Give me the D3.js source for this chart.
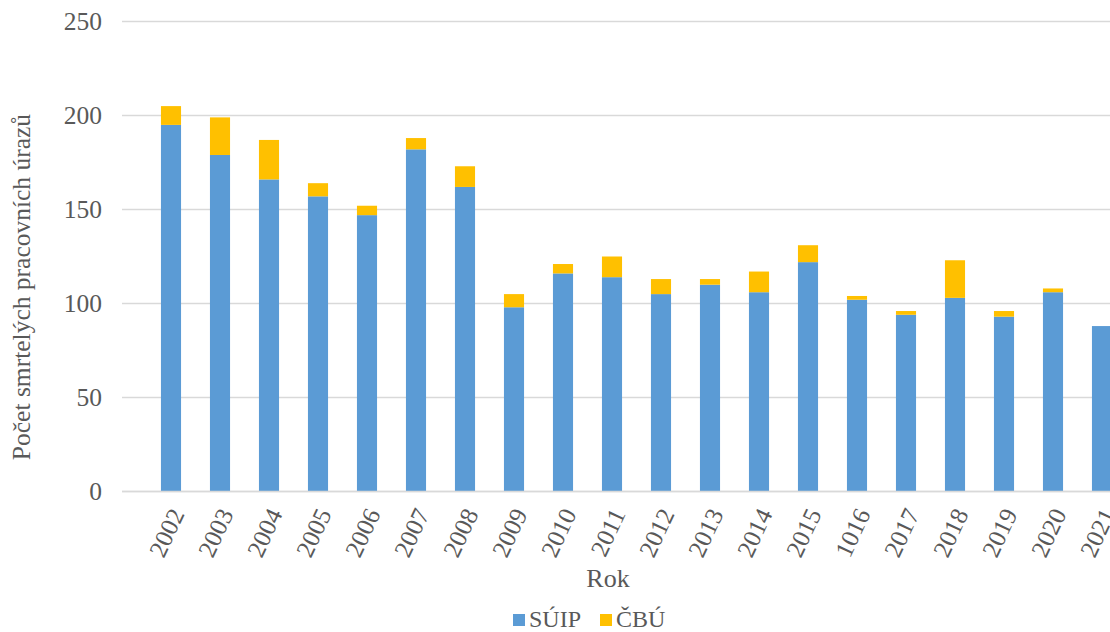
<!DOCTYPE html>
<html><head><meta charset="utf-8">
<script src="https://cdn.jsdelivr.net/npm/d3@7"></script>
<style>body{margin:0;background:#fff}svg{display:block}</style>
</head><body>
<script>
const years = ["2002","2003","2004","2005","2006","2007","2008","2009","2010","2011","2012","2013","2014","2015","1016","2017","2018","2019","2020","2021"];
const suip = [195,179,166,157,147,182,162,98,116,114,105,110,106,122,102,94,103,93,106,88];
const cbu  = [10,20,21,7,5,6,11,7,5,11,8,3,11,9,2,2,20,3,2,0];
const yTicks = [0,50,100,150,200,250];
const seriesNames = ["SÚIP","ČBÚ"];
const colors = ["#5b9bd5","#ffc000"];

const W=1110,H=632;
const svg=d3.select("body").append("svg").attr("width",W).attr("height",H);
const font="'Liberation Serif','Times New Roman',serif";
const txt="#595959";

const y=d3.scaleLinear().domain([0,250]).range([491.5,21.5]);
const x=d3.scaleBand().domain(years).range([146.5,1126.5]).paddingInner(0.59).paddingOuter(0.295);

// gridlines
svg.append("g").selectAll("line").data(yTicks).join("line")
  .attr("x1",122).attr("x2",1130)
  .attr("y1",d=>y(d)).attr("y2",d=>y(d))
  .attr("stroke","#d9d9d9").attr("stroke-width",1.5);

// y tick labels
svg.append("g").selectAll("text").data(yTicks).join("text")
  .attr("x",102).attr("y",d=>y(d)+8.5)
  .attr("text-anchor","end").attr("font-family",font).attr("font-size",25.5)
  .attr("fill",txt).text(d=>d);

// stacked data
const data=years.map((yr,i)=>({year:yr,SUIP:suip[i],CBU:cbu[i]}));
const stack=d3.stack().keys(["SUIP","CBU"])(data);
svg.append("g").selectAll("g").data(stack).join("g")
  .attr("fill",(d,i)=>colors[i])
  .selectAll("rect").data(d=>d).join("rect")
  .attr("x",d=>x(d.data.year)).attr("width",x.bandwidth())
  .attr("y",d=>y(d[1])).attr("height",d=>y(d[0])-y(d[1]));

// x axis line
svg.append("line").attr("x1",122).attr("x2",1130).attr("y1",y(0)).attr("y2",y(0))
  .attr("stroke","#d9d9d9").attr("stroke-width",1.5);

// x tick labels
svg.append("g").selectAll("text").data(years).join("text")
  .attr("transform",d=>`translate(${x(d)+x.bandwidth()/2+6},${510}) rotate(-65)`)
  .attr("text-anchor","end").attr("dy","0.35em")
  .attr("font-family",font).attr("font-size",25).attr("fill",txt).text(d=>d);

// axis titles
svg.append("text").attr("x",608).attr("y",587).attr("text-anchor","middle")
  .attr("font-family",font).attr("font-size",26).attr("fill",txt).text("Rok");
svg.append("text").attr("transform","translate(30,287) rotate(-90)").attr("text-anchor","middle")
  .attr("font-family",font).attr("font-size",25.5).attr("fill",txt).text("Počet smrtelých pracovních úrazů");

// legend
const leg=[{name:seriesNames[0],c:colors[0],x:513},{name:seriesNames[1],c:colors[1],x:600}];
const lg=svg.append("g").selectAll("g").data(leg).join("g").attr("transform",d=>`translate(${d.x},614)`);
lg.append("rect").attr("width",12).attr("height",12).attr("fill",d=>d.c);
lg.append("text").attr("x",16).attr("y",12.5).attr("font-family",font).attr("font-size",24)
  .attr("fill",txt).text(d=>d.name);
</script>
</body></html>
